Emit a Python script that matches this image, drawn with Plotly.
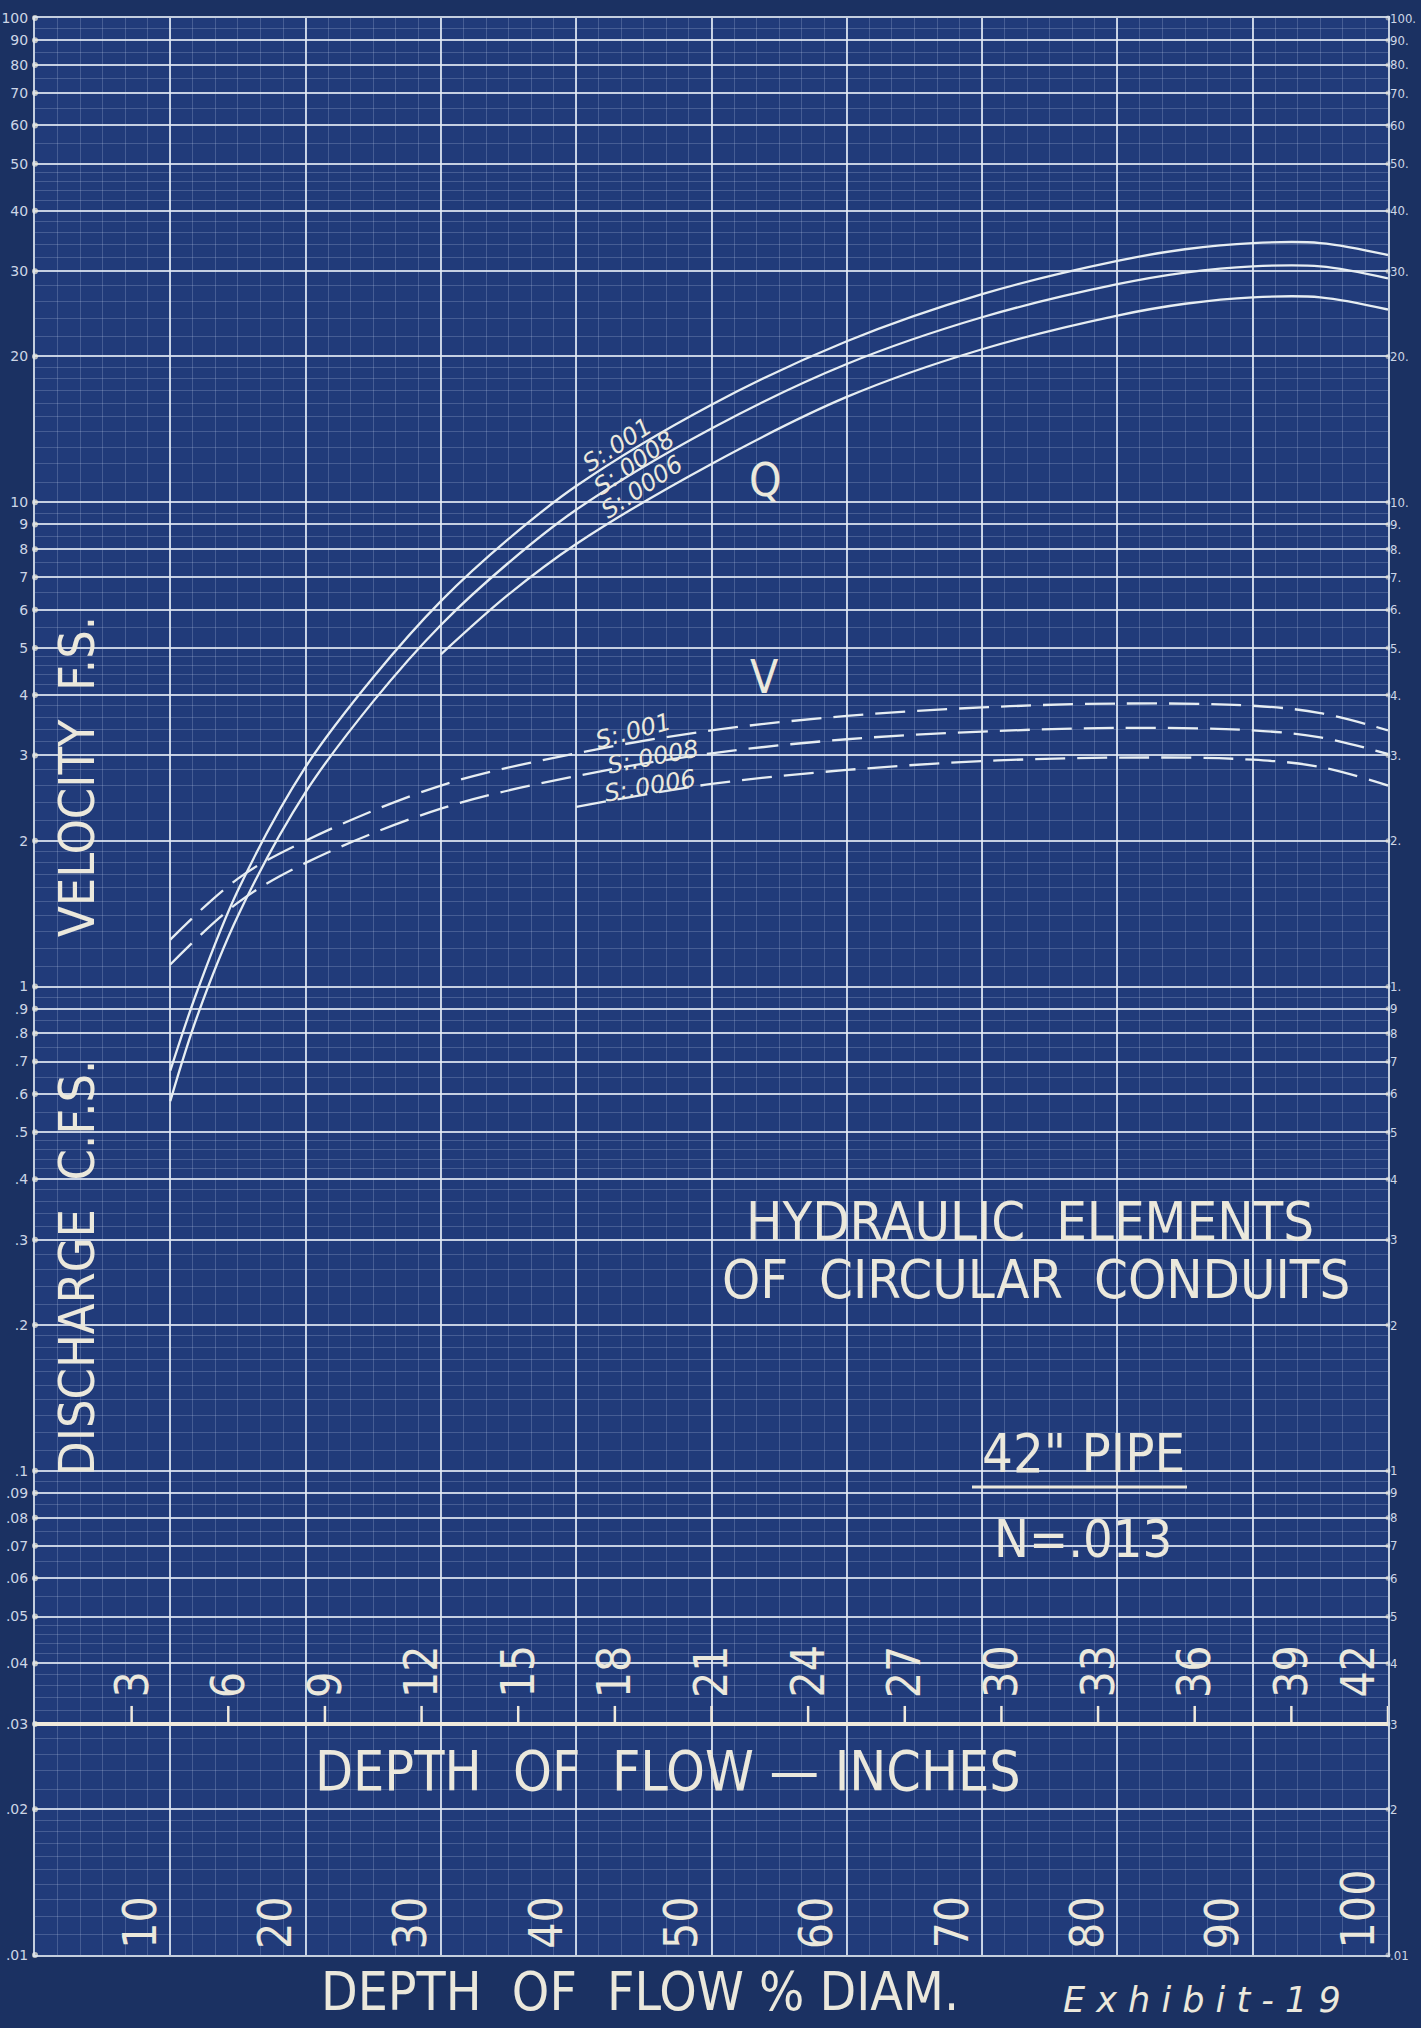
import math
import plotly.graph_objects as go

# ---------------- data ----------------
# Discharge Q (cfs) vs depth of flow (% of diameter), 42" pipe, n=.013
pct_q_a = [10, 12, 15, 20, 25, 30, 35, 40, 50, 60, 70, 80, 85, 90, 95, 100]
q_s001 = [0.67, 0.98, 1.58, 2.84, 4.35, 6.25, 8.4, 10.8, 15.9, 21.5, 26.9, 31.5, 33.3, 34.3, 34.3, 32.4]
q_s0008 = [0.58, 0.87, 1.40, 2.52, 3.88, 5.58, 7.5, 9.65, 14.2, 19.3, 24.1, 28.2, 29.8, 30.7, 30.7, 29.0]
pct_q_b = [30, 35, 40, 50, 60, 70, 80, 85, 90, 95, 100]
q_s0006 = [4.85, 6.45, 8.2, 12.0, 16.5, 20.7, 24.3, 25.7, 26.5, 26.5, 25.0]

# Velocity V (ft/s)
pct_v_a = [10, 15, 20, 30, 40, 50, 60, 70, 80, 90, 95, 100]
v_s001 = [1.25, 1.67, 2.0, 2.6, 3.03, 3.38, 3.62, 3.77, 3.84, 3.80, 3.67, 3.38]
v_s0008 = [1.11, 1.49, 1.80, 2.33, 2.72, 3.03, 3.24, 3.36, 3.42, 3.38, 3.27, 3.02]
pct_v_b = [40, 50, 60, 70, 80, 90, 95, 100]
v_s0006 = [2.35, 2.62, 2.80, 2.92, 2.97, 2.94, 2.84, 2.60]

slope_labels = ["S:.001", "S:.0008", "S:.0006"]

# axis ticks / labels
pct_ticks = [10, 20, 30, 40, 50, 60, 70, 80, 90, 100]
pct_labels = ["10", "20", "30", "40", "50", "60", "70", "80", "90", "100"]
pipe_inches = 42
inch_ticks = [3, 6, 9, 12, 15, 18, 21, 24, 27, 30, 33, 36, 39, 42]
inch_labels = ["3", "6", "9", "12", "15", "18", "21", "24", "27", "30", "33", "36", "39", "42"]
inch_axis_value = 0.03

y_tick_vals = [100, 90, 80, 70, 60, 50, 40, 30, 20,
               10, 9, 8, 7, 6, 5, 4, 3, 2,
               1, 0.9, 0.8, 0.7, 0.6, 0.5, 0.4, 0.3, 0.2,
               0.1, 0.09, 0.08, 0.07, 0.06, 0.05, 0.04, 0.03, 0.02, 0.01]
left_labels = ["100", "90", "80", "70", "60", "50", "40", "30", "20",
               "10", "9", "8", "7", "6", "5", "4", "3", "2",
               "1", ".9", ".8", ".7", ".6", ".5", ".4", ".3", ".2",
               ".1", ".09", ".08", ".07", ".06", ".05", ".04", ".03", ".02", ".01"]
right_labels = ["100.", "90.", "80.", "70.", "60", "50.", "40.", "30.", "20.",
                "10.", "9.", "8.", "7.", "6.", "5.", "4.", "3.", "2.",
                "1.", "9", "8", "7", "6", "5", "4", "3", "2",
                "1", "9", "8", "7", "6", "5", "4", "3", "2", ".01"]

# ---------------- styling ----------------
W, H = 1421, 2028
PL, PR, PT, PB = 35, 1388, 18, 1955
PAPER = "#1b3162"
PLOT = "#213b7a"
MAJ = "rgba(226,234,244,0.85)"
MIN = "rgba(190,206,236,0.24)"
INK = "#ebe8dc"
LINE = "#e6edf2"
NARROW = "Liberation Sans Narrow, DejaVu Sans Condensed, Arial Narrow, sans-serif"

# minor horizontal subdivisions of the log paper
minor_y = []
for k in range(-2, 2):
    b = 10 ** k
    for i in range(11, 20):
        minor_y.append(round(i / 10 * b, 6))
    for i in range(11, 25):
        minor_y.append(round(i / 5 * b, 6))
    for i in range(11, 20):
        minor_y.append(round(i / 2 * b, 6))
minor_y = sorted(set(v for v in minor_y if round(v / (10 ** math.floor(math.log10(v) + 1e-9)), 6) % 1 != 0))


def px(X):
    return (X - PL) / (PR - PL)


def py(Y):
    return (PB - Y) / (PB - PT)


fig = go.Figure()

line_solid = dict(color=LINE, width=2.3, shape="spline", smoothing=1.0)
line_dash = dict(color=LINE, width=2.3, shape="spline", smoothing=1.0, dash="30px,12px")

for xs, ys in [(pct_q_a, q_s001), (pct_q_a, q_s0008), (pct_q_b, q_s0006)]:
    fig.add_trace(go.Scatter(x=xs, y=ys, mode="lines", line=line_solid, hoverinfo="skip"))
for xs, ys in [(pct_v_a, v_s001), (pct_v_a, v_s0008), (pct_v_b, v_s0006)]:
    fig.add_trace(go.Scatter(x=xs, y=ys, mode="lines", line=line_dash, hoverinfo="skip"))

# depth-in-inches scale drawn on the chart
inch_x = [i / pipe_inches * 100 for i in inch_ticks]
fig.add_trace(go.Scatter(x=[0, 100], y=[inch_axis_value, inch_axis_value], mode="lines",
                         line=dict(color="#efe9dc", width=4), hoverinfo="skip"))
tick_factor = 10 ** (18 / ((PB - PT) / 4))
tx, ty = [], []
for xv in inch_x:
    tx += [xv, xv, None]
    ty += [inch_axis_value, inch_axis_value * tick_factor, None]
fig.add_trace(go.Scatter(x=tx, y=ty, mode="lines", line=dict(color="#efe9dc", width=2.5),
                         hoverinfo="skip"))

# axis dots on both sides
fig.add_trace(go.Scatter(x=[0] * len(y_tick_vals), y=y_tick_vals, mode="markers",
                         marker=dict(size=6, color="rgba(236,232,214,0.75)"), cliponaxis=False,
                         hoverinfo="skip"))
fig.add_trace(go.Scatter(x=[100] * len(y_tick_vals), y=y_tick_vals, mode="markers", yaxis="y2",
                         marker=dict(size=5, color="rgba(236,232,214,0.55)"), cliponaxis=False,
                         hoverinfo="skip"))

ann = []
# inch labels
for xv, lab in zip(inch_x, inch_labels):
    last = xv >= 99.9
    ann.append(dict(x=xv, y=math.log10(inch_axis_value), xref="x", yref="y", text=lab,
                    textangle=-90, showarrow=False, yanchor="bottom", yshift=24,
                    xanchor="right" if last else "center", xshift=-1 if last else 0,
                    font=dict(family=NARROW, size=46, color=INK)))
# percent labels
for xv, lab in zip(pct_ticks, pct_labels):
    ann.append(dict(x=xv, y=-2, xref="x", yref="y", text=lab, textangle=-90, showarrow=False,
                    yanchor="bottom", yshift=4, xanchor="right", xshift=-2,
                    font=dict(family=NARROW, size=46, color=INK)))


def txt(text, X, Y, size, angle=0, style="normal", family=NARROW):
    ann.append(dict(x=px(X), y=py(Y), xref="paper", yref="paper", text=text, showarrow=False,
                    xanchor="center", yanchor="middle", textangle=angle,
                    font=dict(family=family, size=size, color=INK, style=style)))


txt("HYDRAULIC  ELEMENTS", 1030, 1222, 54)
txt("OF  CIRCULAR  CONDUITS", 1036, 1279, 54)
txt("42\" PIPE", 1083, 1453, 54)
txt("N=.013", 1083, 1539, 52)
txt("Q", 765, 480, 46)
txt("V", 764, 677, 46)
txt("DEPTH  OF  FLOW — INCHES", 668, 1771, 55)
txt("DEPTH  OF  FLOW % DIAM.", 640, 1991, 53)
txt("E x h i b i t - 1 9", 1202, 2000, 35, style="italic", family="DejaVu Sans, sans-serif")
txt("VELOCITY  F.S.", 77, 777, 50, angle=-90)
txt("DISCHARGE  C.F.S.", 77, 1268, 50, angle=-90)

# slope labels along the curves
for lab, (X, Y, a) in zip(slope_labels, [(617, 445, -33), (634, 463, -35), (642, 487, -34)]):
    txt(lab, X, Y, 24, angle=a, style="italic", family="DejaVu Sans, sans-serif")
for lab, (X, Y, a) in zip(slope_labels, [(633, 731, -15), (653, 757, -11), (650, 786, -10)]):
    txt(lab, X, Y, 24, angle=a, style="italic", family="DejaVu Sans, sans-serif")

fig.update_layout(
    width=W, height=H,
    margin=dict(l=PL, r=W - PR, t=PT, b=H - PB, autoexpand=False),
    paper_bgcolor=PAPER, plot_bgcolor=PLOT,
    showlegend=False,
    annotations=ann,
    shapes=[dict(type="line", xref="paper", yref="paper", x0=px(972), x1=px(1187),
                 y0=py(1487), y1=py(1487), line=dict(color=INK, width=3))],
    xaxis=dict(range=[0, 100], tickmode="array", tickvals=list(range(0, 101, 10)),
               showticklabels=False, ticks="", showgrid=True, gridcolor=MAJ, gridwidth=2,
               zeroline=False, showline=True, linecolor=MAJ, linewidth=2, mirror=True,
               automargin=False,
               minor=dict(tickmode="linear", tick0=0, dtick=10 / 6, showgrid=True,
                          gridcolor=MIN, gridwidth=1, ticks="")),
    yaxis=dict(type="log", range=[-2, 2], tickmode="array", tickvals=y_tick_vals,
               ticktext=left_labels, ticks="", showgrid=True, gridcolor=MAJ, gridwidth=2,
               zeroline=False, showline=True, linecolor=MAJ, linewidth=2, mirror=True,
               automargin=False, ticklabelstandoff=2,
               tickfont=dict(family="DejaVu Sans, sans-serif", size=14, color="#cdd6e6"),
               minor=dict(tickmode="array", tickvals=minor_y, showgrid=True, gridcolor=MIN,
                          gridwidth=1, ticks="")),
    yaxis2=dict(type="log", range=[-2, 2], overlaying="y", side="right", tickmode="array",
                tickvals=y_tick_vals, ticktext=right_labels, ticks="", showgrid=False,
                zeroline=False, showline=False, automargin=False, ticklabelstandoff=1,
                tickfont=dict(family=NARROW, size=13, color="#cdd6e6")),
)

fig.write_html("out.html",
               config={"displayModeBar": False},
               post_script="document.body.style.margin='0';"
                           "document.body.style.background='" + PAPER + "';")
